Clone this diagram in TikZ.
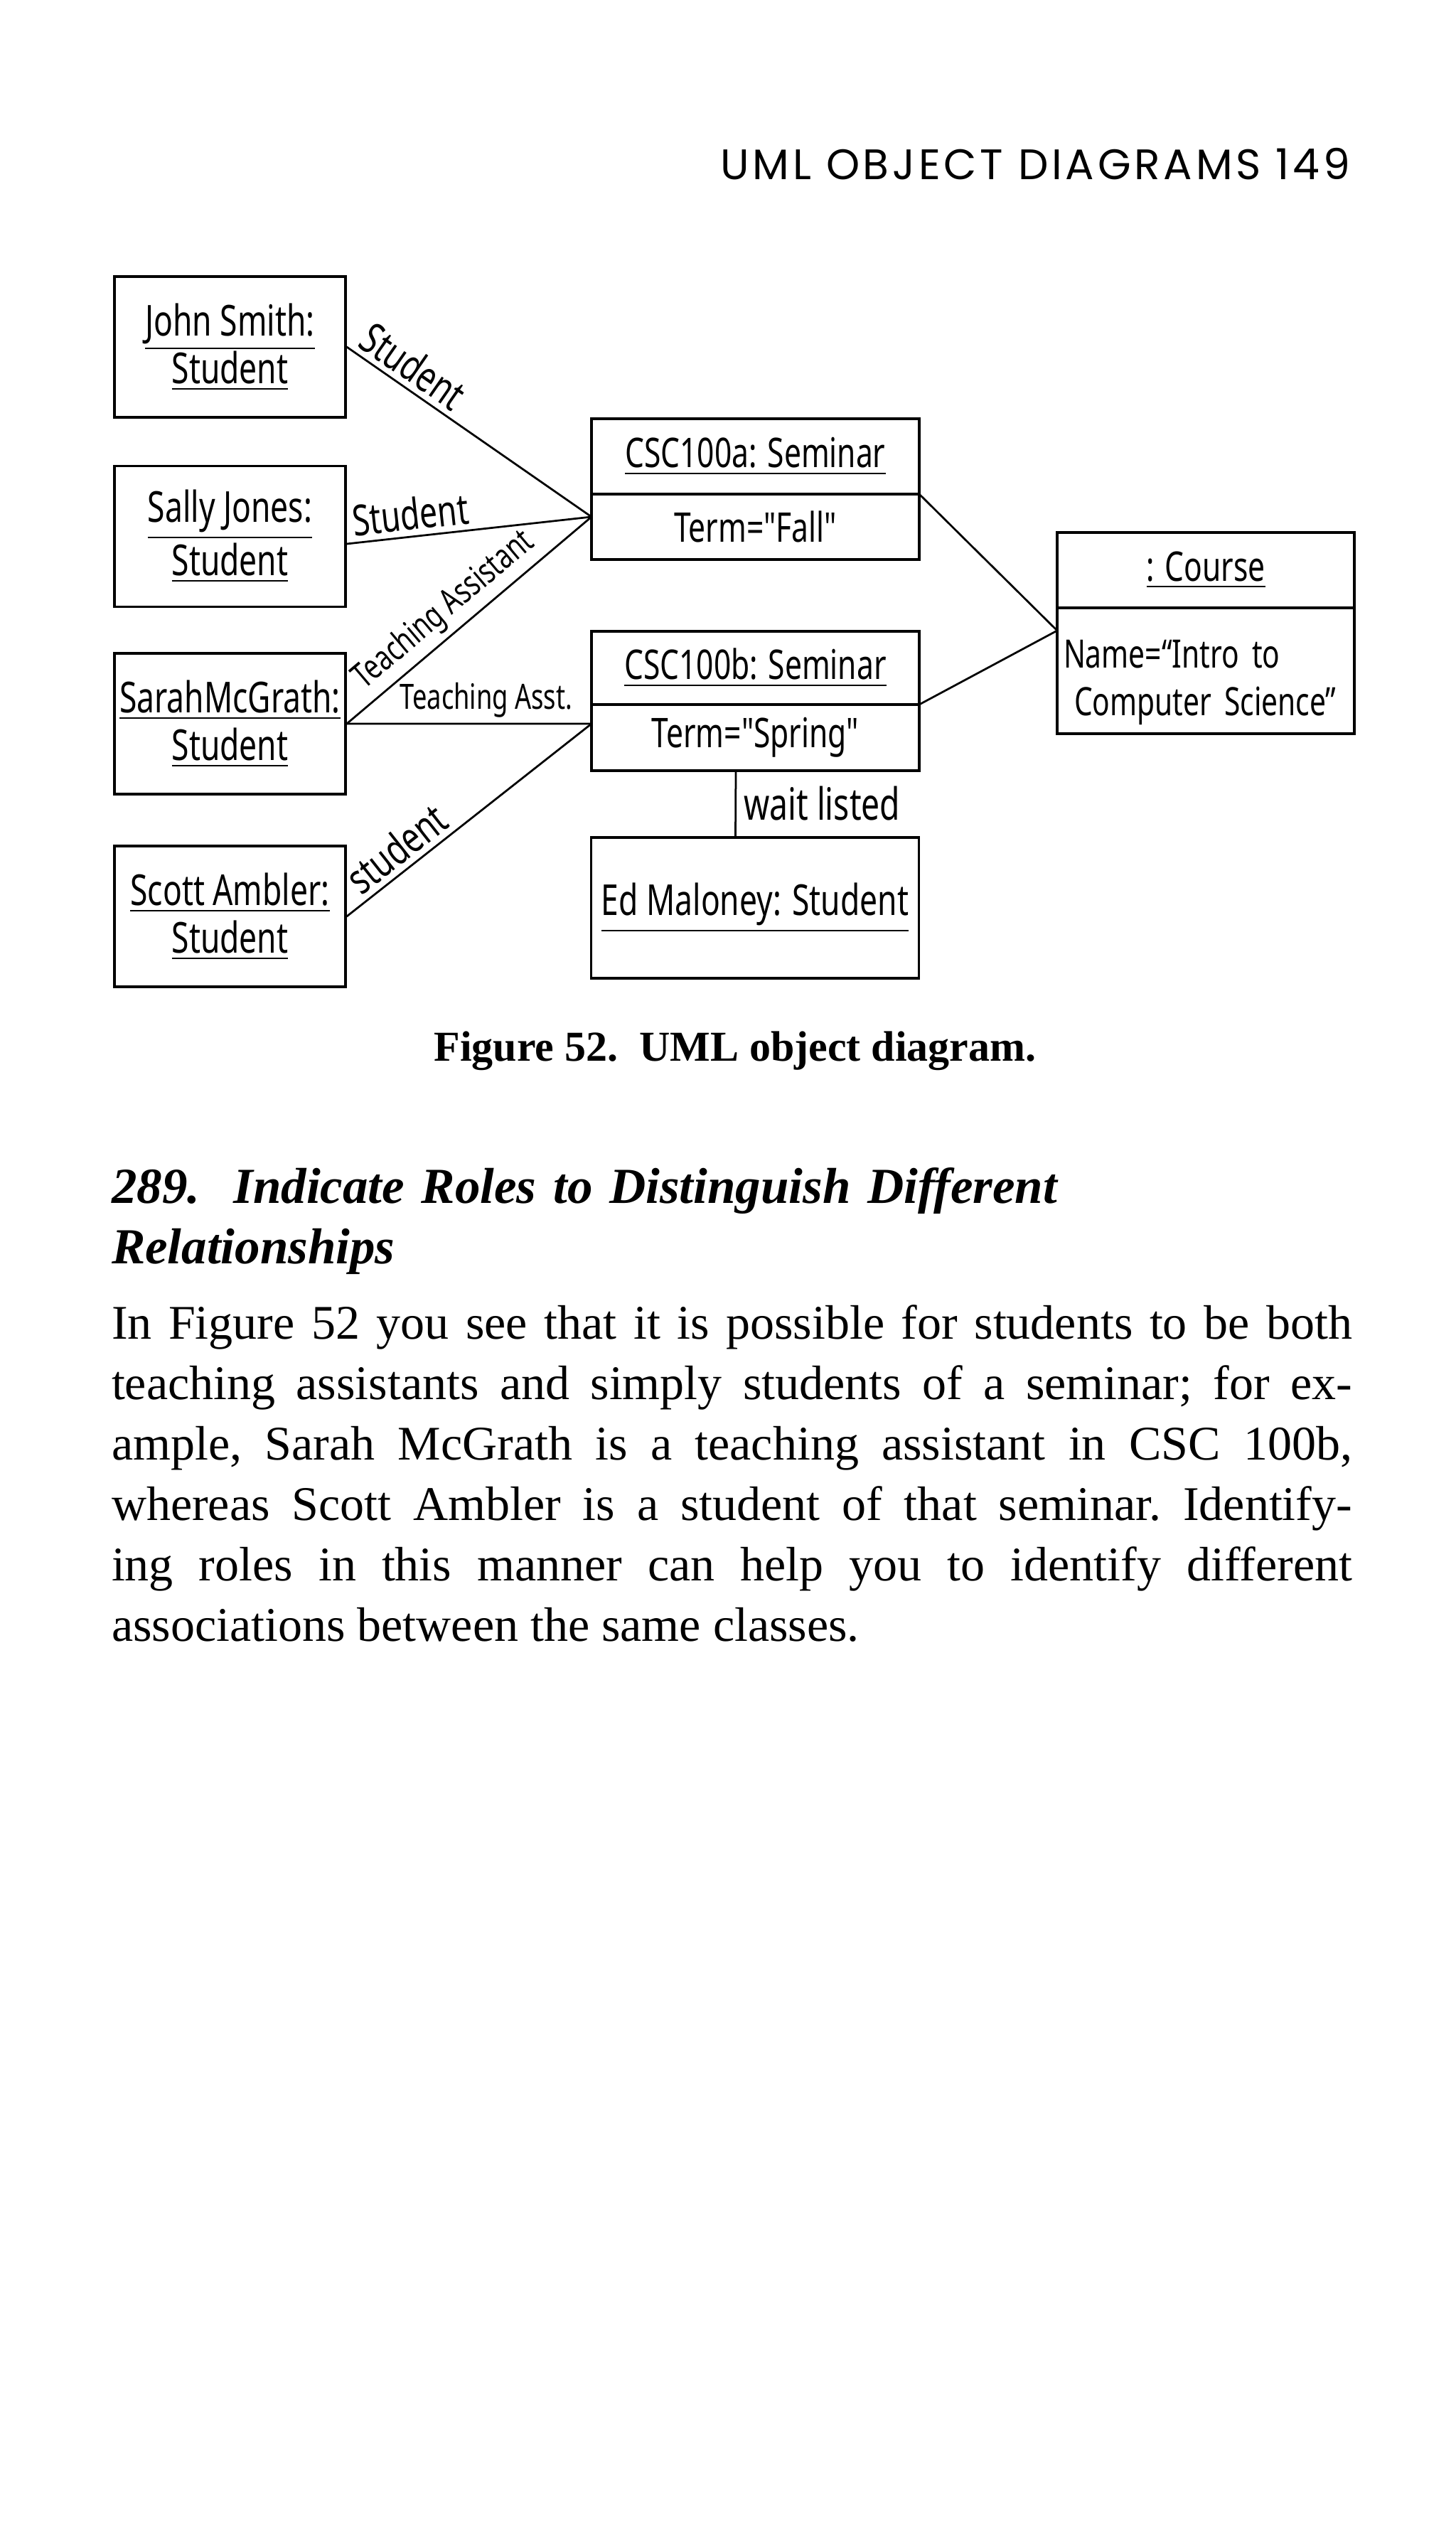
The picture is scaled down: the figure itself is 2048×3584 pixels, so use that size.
\documentclass[tikz,border=0pt]{standalone}
\usepackage{fontspec}
\setmainfont{Liberation Serif}
\newfontfamily\handfont[FakeStretch=0.74]{Noto Sans}
\newfontfamily\headfont[LetterSpace=8]{Poppins}
\usetikzlibrary{positioning}

\begin{document}
\begin{tikzpicture}[
        x=0.2pt, y=-0.2pt,
        obj/.style={draw, line width=0.7pt, inner sep=0pt, minimum width=65pt, minimum height=39.6pt, align=center, font=\handfont\fontsize{12}{13.4}\selectfont},
        part/.style={draw, line width=0.7pt, inner sep=0pt, outer sep=0pt, minimum width=92.2pt, align=center, font=\handfont\fontsize{11.5}{13.4}\selectfont},
        link/.style={line width=0.55pt, line cap=round},
        role/.style={sloped, above, inner sep=1.5pt, font=\handfont\fontsize{12}{13}\selectfont},
        smallrole/.style={role, font=\handfont\fontsize{9.8}{11}\selectfont},
        tag/.style={right, inner sep=2pt, font=\handfont\fontsize{12.5}{13}\selectfont},
    ]
    \fill[white] (0,0) rectangle (2048,3584);
    \useasboundingbox (0,0) rectangle (2048,3584);

    \node[anchor=base east, inner sep=0pt, font=\headfont\fontsize{12}{14}\selectfont] (header) at (1900,252) {UML OBJECT DIAGRAMS 149};

    % students
    \node[obj] (john) at (323.5,488) {\underline{John Smith:}\\\underline{Student}};
    \node[obj] (sally) at (323.5,754.5) {\underline{Sally Jones:}\\\underline{Student}};
    \node[obj] (sarah) at (323.5,1018) {\underline{SarahMcGrath:}\\\underline{Student}};
    \node[obj] (scott) at (323.5,1289) {\underline{Scott Ambler:}\\\underline{Student}};

    % seminars
    \node[part, minimum height=21.2pt] (csa-name) at (1062.5,642) {\underline{CSC100a: Seminar}};
    \node[part, minimum height=18.4pt, below=0pt of csa-name] (csa-term) {Term="Fall"};
    \node[part, minimum height=20.6pt] (csb-name) at (1062.5,939.5) {\underline{CSC100b: Seminar}};
    \node[part, minimum height=18.6pt, below=0pt of csb-name] (csb-term) {Term="Spring"};
    \node[obj, minimum width=92.2pt] (ed) at (1062,1277) {\underline{Ed Maloney: Student}};

    % course
    \node[part, minimum width=83.6pt, minimum height=21.2pt] (course-name) at (1696,802) {\underline{: Course}};
    \node[part, minimum width=83.6pt, minimum height=35.4pt, text width=80pt, align=left, font=\handfont\fontsize{11}{13.4}\selectfont, below=0pt of course-name] (course-attr) {\rule{0pt}{14.5pt}Name=“Intro to\\\hspace*{3pt}Computer Science”};

    % links
    \draw[link] (john.east) -- node[role, pos=0.22] {Student} ([yshift=2.8pt]csa-term.west);
    \draw[link] ([yshift=-2.1pt]sally.east) -- node[role, pos=0.27] {Student} ([yshift=2.8pt]csa-term.west);
    \draw[link] (sarah.east) -- node[smallrole, pos=0.46] {Teaching Assistant} ([yshift=2.8pt]csa-term.west);
    \draw[link] (sarah.east) -- node[smallrole, pos=0.57] {Teaching Asst.} ([yshift=3.9pt]csb-term.west);
    \draw[link] (scott.east) -- node[role, pos=0.26] {student} ([yshift=3.9pt]csb-term.west);
    \draw[link] (csa-name.south east) -- ([yshift=11.3pt]course-attr.west);
    \draw[link] (csb-name.south east) -- ([yshift=11.3pt]course-attr.west);
    \draw[link] ([xshift=-5.5pt]csb-term.south) -- node[tag] {wait listed} ([xshift=-5.5pt]ed.north);

    % text below
    \node[anchor=base, inner sep=0pt, font=\bfseries\fontsize{12}{14}\selectfont] (caption) at (1034,1492) {Figure 52.\ \ UML object diagram.};
    \node[anchor=base west, inner sep=0pt, text width=349pt, align=left, font=\bfseries\itshape\fontsize{14.2}{17}\selectfont] (heading) at (156,1692) {289.\ \ Indicate Roles to Distinguish Different\\Relationships};
    \node[anchor=base west, inner sep=0pt, text width=349pt, align=justify, font=\fontsize{13.6}{17}\selectfont] (body) at (156,1883) {%
        \frenchspacing\tolerance=10000\hyphenpenalty=10000
        In Figure 52 you see that it is possible for students to be both\linebreak
        teaching assistants and simply students of a seminar; for ex-\linebreak
        ample, Sarah McGrath is a teaching assistant in CSC 100b,\linebreak
        whereas Scott Ambler is a student of that seminar. Identify-\linebreak
        ing roles in this manner can help you to identify different\linebreak
        associations between the same classes.};
\end{tikzpicture}
\end{document}
